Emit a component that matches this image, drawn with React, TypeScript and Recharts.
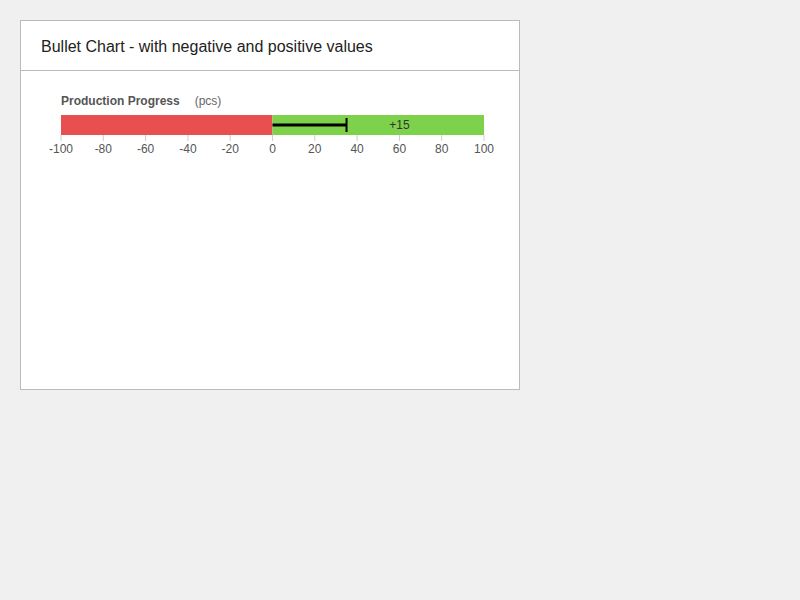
import React from 'react';
import { BarChart, Bar, XAxis, YAxis, ReferenceLine, ReferenceDot } from 'recharts';

const categories = ['Production Progress'];
const rangeNeg = [-100];
const rangePos = [100];
const measures = [35];
const targets = [35];
const labels = ['+15'];
const labelPos = [60];
const ticks = [-100, -80, -60, -40, -20, 0, 20, 40, 60, 80, 100];

const data = categories.map((c, i) => ({ name: c, neg: rangeNeg[i], pos: rangePos[i] }));

export default function App() {
  const font = '"Liberation Sans", Arial, sans-serif';
  return (
    <div style={{ position: 'fixed', left: 0, top: 0, width: 800, height: 600, background: '#f0f0f0', fontFamily: font }}>
      <div style={{ position: 'absolute', left: 20, top: 20, width: 498, height: 368, background: '#fff', border: '1px solid #bbb' }}>
        <div style={{ height: 49, borderBottom: '1px solid #bbb', fontSize: 16, color: '#222', lineHeight: '52px', paddingLeft: 20 }}>
          Bullet Chart - with negative and positive values
        </div>
        <div style={{ position: 'absolute', left: 40, top: 73, fontSize: 12, color: '#666' }}>
          <b style={{ color: '#555' }}>{categories[0]}</b>
          <span style={{ marginLeft: 15 }}>(pcs)</span>
        </div>
        <div style={{ position: 'absolute', left: -1, top: 84 }}>
          <BarChart width={500} height={60} data={data} layout="vertical" stackOffset="sign"
            margin={{ top: 10, right: 36, bottom: 0, left: 41 }} barCategoryGap={0}>
            <XAxis type="number" domain={[-100, 100]} ticks={ticks} axisLine={false} height={30}
              tickLine={{ stroke: '#ccc' }} tickSize={6} tickMargin={3}
              tick={{ fill: '#555', fontSize: 12, fontFamily: font }} interval={0} />
            <YAxis type="category" dataKey="name" hide />
            <Bar dataKey="neg" stackId="r" fill="#e85050" isAnimationActive={false} />
            <Bar dataKey="pos" stackId="r" fill="#7ed14a" isAnimationActive={false} />
            <ReferenceLine segment={[{ x: 0, y: categories[0] }, { x: measures[0], y: categories[0] }]} stroke="#000" strokeWidth={3} />
            <ReferenceDot x={targets[0]} y={categories[0]} shape={(p: any) => (
              <line x1={p.cx} x2={p.cx} y1={p.cy - 7} y2={p.cy + 7} stroke="#000" strokeWidth={2} />
            )} />
            <ReferenceDot x={labelPos[0]} y={categories[0]} shape={(p: any) => (
              <text x={p.cx} y={p.cy + 4} textAnchor="middle" fontSize={12} fill="#333" fontFamily={font}>{labels[0]}</text>
            )} />
          </BarChart>
        </div>
      </div>
    </div>
  );
}
